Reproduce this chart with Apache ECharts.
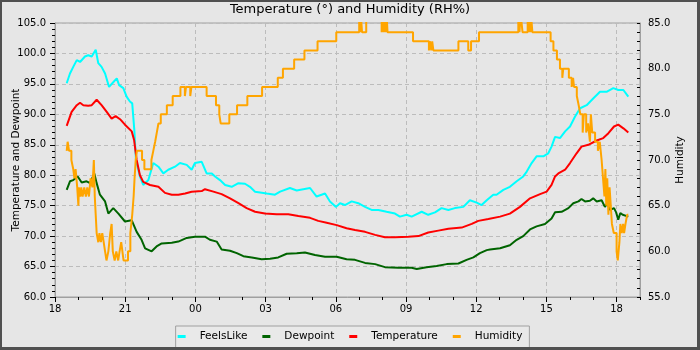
<!DOCTYPE html>
<html>
<head>
<meta charset="utf-8">
<title>Temperature and Humidity</title>
<script src="https://cdn.jsdelivr.net/npm/echarts@6/dist/echarts.min.js"></script>
<style>
  body { margin: 0; background: #e6e6e6; }
  #main { position: absolute; left: 0; top: 0; width: 700px; height: 350px; }
  #frame { position: absolute; left: 0; top: 0; width: 700px; height: 350px; box-sizing: border-box;
           border-style: solid; border-color: #505050; border-width: 2px 3px 3px 2px; pointer-events: none; }
</style>
</head>
<body>
<div id="main"></div>
<div id="frame"></div>
<script>
// hours since midnight of day 1 (24 = 00:00 next day)
var feelsLike = [[18.5,95.1],[18.64,96.7],[18.78,97.8],[18.93,98.9],[19.07,98.6],[19.28,99.5],[19.42,99.7],[19.57,99.5],[19.74,100.6],[19.85,98.4],[19.99,97.8],[20.14,96.7],[20.31,94.5],[20.45,95.1],[20.64,95.9],[20.74,94.8],[20.92,94.3],[21.06,92.9],[21.2,92.1],[21.3,91.8],[21.39,87.4],[21.46,82.5],[21.63,79.8],[21.77,78.4],[21.99,79.2],[22.2,82.0],[22.42,81.4],[22.63,80.3],[22.84,80.9],[23.13,81.4],[23.34,82.0],[23.63,81.7],[23.84,80.9],[23.98,82.0],[24.27,82.2],[24.34,82.0],[24.48,80.3],[24.7,80.3],[24.84,79.8],[25.05,79.2],[25.27,78.4],[25.55,78.1],[25.84,78.7],[26.12,78.6],[26.33,78.1],[26.55,77.3],[27.05,77.0],[27.4,76.8],[27.62,77.3],[28.04,77.9],[28.33,77.5],[28.61,77.7],[28.9,77.9],[29.18,76.5],[29.54,77.0],[29.75,75.7],[30.01,74.8],[30.18,75.4],[30.39,75.1],[30.68,75.7],[30.96,75.4],[31.25,74.8],[31.53,74.3],[31.82,74.3],[32.17,74.0],[32.53,73.7],[32.74,73.2],[33.03,73.5],[33.24,73.2],[33.67,74.0],[33.95,73.5],[34.24,73.9],[34.52,74.6],[34.81,74.3],[35.09,74.6],[35.45,74.8],[35.73,75.9],[36.02,75.5],[36.23,75.1],[36.45,75.9],[36.73,76.8],[36.87,76.8],[37.16,77.6],[37.44,78.1],[37.73,79.0],[38.01,79.8],[38.16,80.6],[38.37,82.0],[38.58,83.1],[38.87,83.1],[39.08,83.6],[39.22,84.7],[39.37,86.3],[39.58,86.1],[39.8,87.2],[40.01,88.0],[40.22,89.6],[40.44,91.0],[40.72,91.5],[41.0,92.6],[41.29,93.7],[41.57,93.7],[41.86,94.3],[42.07,94.0],[42.29,94.0],[42.5,92.9]];

var dewpoint = [[18.5,77.6],[18.64,79.0],[18.78,79.2],[18.97,79.8],[19.14,78.8],[19.35,79.0],[19.5,78.7],[19.68,80.3],[19.78,78.7],[19.92,76.8],[20.14,75.7],[20.28,73.7],[20.49,74.6],[20.71,73.7],[20.99,72.4],[21.28,72.6],[21.49,70.7],[21.7,69.4],[21.85,68.0],[22.13,67.5],[22.34,68.3],[22.56,68.8],[22.99,68.9],[23.27,69.1],[23.63,69.7],[23.98,69.9],[24.41,69.9],[24.62,69.4],[24.91,69.1],[25.12,67.8],[25.48,67.6],[25.77,67.2],[26.05,66.7],[26.41,66.5],[26.83,66.2],[27.19,66.3],[27.54,66.5],[27.9,67.1],[28.33,67.2],[28.68,67.3],[29.11,66.9],[29.54,66.6],[30.04,66.6],[30.46,66.2],[30.82,66.1],[31.25,65.6],[31.68,65.4],[32.1,64.9],[32.67,64.8],[33.24,64.8],[33.46,64.6],[33.88,64.9],[34.31,65.1],[34.74,65.4],[35.24,65.5],[35.59,66.1],[35.88,66.5],[36.16,67.2],[36.45,67.7],[36.59,67.8],[37.02,68.0],[37.44,68.5],[37.73,69.4],[38.01,70.0],[38.3,71.1],[38.58,71.6],[38.94,72.0],[39.22,72.9],[39.37,73.9],[39.65,74.0],[39.94,74.6],[40.15,75.4],[40.37,75.7],[40.5,76.1],[40.65,75.7],[40.86,75.8],[41.0,76.2],[41.15,75.7],[41.36,75.9],[41.5,74.8],[41.6,75.4],[41.72,74.3],[41.89,74.6],[41.98,73.9],[42.07,72.7],[42.16,73.8],[42.26,73.5],[42.5,73.2]];

var temperature = [[18.5,88.1],[18.71,90.4],[18.93,91.5],[19.07,91.9],[19.21,91.5],[19.42,91.4],[19.57,91.5],[19.78,92.4],[19.99,91.5],[20.21,90.4],[20.42,89.3],[20.59,89.7],[20.78,89.2],[20.99,88.3],[21.28,87.2],[21.38,85.8],[21.49,82.5],[21.63,80.0],[21.77,78.9],[22.06,78.4],[22.42,78.1],[22.7,77.1],[22.99,76.8],[23.27,76.8],[23.56,77.0],[23.84,77.3],[24.27,77.4],[24.41,77.7],[24.77,77.3],[25.12,76.9],[25.48,76.2],[25.84,75.4],[26.19,74.6],[26.55,74.0],[26.97,73.7],[27.47,73.6],[27.97,73.6],[28.4,73.3],[28.9,73.0],[29.25,72.5],[29.61,72.2],[30.04,71.8],[30.46,71.3],[30.82,71.0],[31.25,70.7],[31.68,70.2],[32.1,69.8],[32.53,69.8],[33.1,69.9],[33.53,70.0],[33.95,70.6],[34.38,70.9],[34.81,71.2],[35.38,71.4],[35.81,72.0],[36.09,72.5],[36.52,72.8],[37.02,73.2],[37.44,73.7],[37.87,74.8],[38.3,76.2],[38.73,76.9],[39.01,77.3],[39.22,78.4],[39.37,79.8],[39.51,80.3],[39.8,80.9],[40.01,82.0],[40.29,83.6],[40.5,84.7],[40.79,85.0],[41.15,85.7],[41.43,86.1],[41.65,86.9],[41.89,88.0],[42.07,88.3],[42.29,87.7],[42.5,87.0]];

// humidity changes in whole percent; each point is the time a new reading starts
var humidity = [[18.5,71],[18.54,72],[18.6,71],[18.7,70],[18.78,69],[18.83,68],[18.88,69],[18.95,67],[19.0,65],[19.02,67],[19.08,66],[19.12,67],[19.18,66],[19.25,67],[19.32,66],[19.38,67],[19.45,66],[19.52,68],[19.6,67],[19.66,70],[19.7,66],[19.74,64],[19.78,62],[19.85,61],[19.9,62],[19.96,61],[20.02,62],[20.08,61],[20.14,60],[20.2,59],[20.28,60],[20.36,62],[20.42,63],[20.47,60],[20.55,59],[20.62,60],[20.7,59],[20.76,60],[20.83,61],[20.88,60],[20.93,59],[21.12,60],[21.22,62],[21.3,64],[21.36,66],[21.4,68],[21.45,70],[21.5,71],[21.72,70],[21.82,69],[22.12,70],[22.2,71],[22.28,72],[22.35,73],[22.42,74],[22.52,75],[22.78,76],[23.03,77],[23.36,78],[23.55,77],[23.6,78],[23.78,77],[23.83,78],[24.48,77],[24.88,76],[25.02,75],[25.08,74],[25.45,75],[25.78,76],[26.22,77],[26.85,78],[27.52,79],[27.74,80],[28.22,81],[28.66,82],[29.22,83],[30.02,84],[31.0,86],[31.04,84],[31.07,86],[31.12,84],[31.3,86],[31.96,84],[32.0,86],[32.05,84],[32.1,86],[32.14,84],[32.17,86],[32.21,84],[33.3,83],[33.98,82],[34.02,83],[34.08,82],[34.12,83],[34.17,82],[35.24,83],[35.66,82],[35.78,83],[36.12,84],[37.8,86],[37.85,84],[37.9,86],[37.98,84],[38.2,86],[38.24,84],[38.27,86],[38.31,84],[38.34,86],[38.4,84],[39.18,83],[39.3,82],[39.45,81],[39.58,80],[39.68,79],[39.72,80],[39.96,79],[40.08,78],[40.14,79],[40.18,78],[40.3,77],[40.38,76],[40.45,75],[40.55,73],[40.6,75],[40.7,73],[40.78,74],[40.86,72],[40.9,75],[40.96,73],[41.08,72],[41.2,71],[41.28,72],[41.36,70],[41.42,68],[41.48,66],[41.52,69],[41.56,65],[41.6,68],[41.65,64],[41.7,67],[41.75,65],[41.8,63],[41.88,62],[42.0,60],[42.05,59],[42.12,61],[42.16,63],[42.22,62],[42.28,63],[42.32,62],[42.38,63],[42.45,64],[42.5,64]];

var hourTicks = [18, 43];   // axis range, 18:00 to 19:00 next day
var leftRange = [60, 105];
var rightRange = [55, 85];

var font = 'DejaVu Sans';
var gridDash = { color: '#bcbcbc', type: [4, 3], width: 1 };

var chart = echarts.init(document.getElementById('main'));
chart.setOption({
  backgroundColor: '#e6e6e6',
  animation: false,
  textStyle: { fontFamily: font },
  title: {
    text: 'Temperature (\u00b0) and Humidity (RH%)',
    left: 'center', top: 3, padding: 0,
    textStyle: { fontFamily: font, fontSize: 13, fontWeight: 'normal', color: '#000' }
  },
  grid: {
    left: 55, right: 60, top: 23, bottom: 53,
    outerBoundsMode: 'none', containLabel: false,
    show: true, borderColor: '#a0a0a0', borderWidth: 1, backgroundColor: 'transparent'
  },
  legend: {
    top: 326, left: 'center',
    padding: [5, 7, 8, 2],
    backgroundColor: '#e9e9e9', borderColor: '#a0a0a0', borderWidth: 1,
    itemWidth: 8, itemHeight: 3, itemGap: 15,
    icon: 'rect',
    textStyle: { fontFamily: font, fontSize: 10.5, color: '#000', padding: [0, 0, 0, 9] },
    data: ['FeelsLike', 'Dewpoint', 'Temperature', 'Humidity']
  },
  xAxis: [{
    type: 'value', min: hourTicks[0], max: hourTicks[1], interval: 3,
    axisLine: { lineStyle: { color: '#a0a0a0' } },
    axisTick: { length: 5, lineStyle: { color: '#000' } },
    axisLabel: {
      margin: 7, fontSize: 10, color: '#000', showMaxLabel: false,
      formatter: function (v) { var h = v % 24; return (h < 10 ? '0' : '') + h; }
    },
    splitLine: { show: true, lineStyle: gridDash }
  }, {
    type: 'value', min: hourTicks[0], max: hourTicks[1], interval: 1, position: 'bottom',
    axisLine: { show: false },
    axisTick: { length: 3, lineStyle: { color: '#000' } },
    axisLabel: { show: false },
    splitLine: { show: false }
  }],
  yAxis: [{
    type: 'value', min: leftRange[0], max: leftRange[1], interval: 5,
    name: 'Temperature and Dewpoint', nameLocation: 'middle', nameGap: 33, nameMoveOverlap: false,
    nameTextStyle: { fontFamily: font, fontSize: 10.5, color: '#000' },
    axisLine: { show: true, lineStyle: { color: '#a0a0a0' } },
    axisTick: { show: true, length: 5, lineStyle: { color: '#000' } },
    minorTick: { show: true, splitNumber: 5, length: 3, lineStyle: { color: '#000' } },
    axisLabel: { margin: 9, fontSize: 10, color: '#000', formatter: function (v) { return v.toFixed(1); } },
    splitLine: { show: true, lineStyle: gridDash }
  }, {
    type: 'value', min: rightRange[0], max: rightRange[1], interval: 5, position: 'right',
    name: 'Humidity', nameLocation: 'middle', nameGap: 35, nameMoveOverlap: false,
    nameTextStyle: { fontFamily: font, fontSize: 10.5, color: '#000' },
    axisLine: { show: true, lineStyle: { color: '#a0a0a0' } },
    axisTick: { show: true, inside: true, length: 3, lineStyle: { color: '#000' } },
    minorTick: { show: true, splitNumber: 5, length: 3, lineStyle: { color: '#000' } },
    axisLabel: { margin: 8, fontSize: 10, color: '#000', formatter: function (v) { return v.toFixed(1); } },
    splitLine: { show: false }
  }],
  series: [{
    name: 'FeelsLike', type: 'line', yAxisIndex: 0, showSymbol: false,
    itemStyle: { color: '#00ffff' }, lineStyle: { color: '#00ffff', width: 2 },
    data: feelsLike
  }, {
    name: 'Dewpoint', type: 'line', yAxisIndex: 0, showSymbol: false,
    itemStyle: { color: '#006400' }, lineStyle: { color: '#006400', width: 2 },
    data: dewpoint
  }, {
    name: 'Temperature', type: 'line', yAxisIndex: 0, showSymbol: false,
    itemStyle: { color: '#ff0000' }, lineStyle: { color: '#ff0000', width: 2 },
    data: temperature
  }, {
    name: 'Humidity', type: 'line', yAxisIndex: 1, showSymbol: false, step: 'end',
    itemStyle: { color: '#ffa500' }, lineStyle: { color: '#ffa500', width: 2 },
    data: humidity
  }]
});
</script>
</body>
</html>
